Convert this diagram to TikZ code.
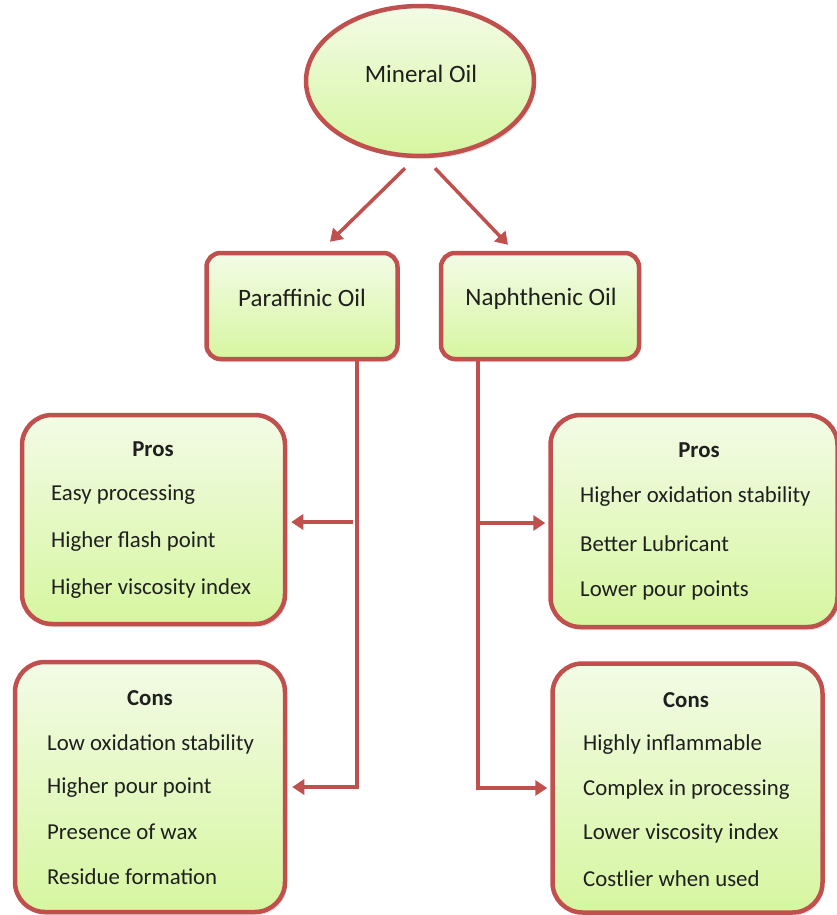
\documentclass[tikz,border=0pt]{standalone}
\usepackage{fontspec}
\setmainfont{Carlito}
\usetikzlibrary{shapes.geometric,arrows.meta,shadows}

\definecolor{edgered}{RGB}{192,80,77}
\definecolor{paletop}{RGB}{243,251,230}
\definecolor{palebot}{RGB}{214,246,160}

\tikzset{
  fillbox/.style={draw=edgered, line width=4.5pt, top color=paletop, bottom color=palebot,
    drop shadow={opacity=0.22, shadow xshift=2pt, shadow yshift=-3pt}},
  oval/.style={fillbox, ellipse, minimum width=228pt, minimum height=150pt, inner sep=0pt},
  oilbox/.style={fillbox, rectangle, rounded corners=14pt, inner sep=0pt},
  listbox/.style={fillbox, rectangle, rounded corners=30pt, inner sep=0pt},
  txt/.style={font=\fontsize{22.8}{27}\selectfont, inner sep=0pt, text=black!88},
  bigtxt/.style={txt, font=\fontsize{25}{30}\selectfont},
  head/.style={txt, font=\fontsize{22.8}{27}\selectfont\bfseries},
  item/.style={txt, anchor=west},
  arrow/.style={draw=edgered, line width=3.5pt, -{Triangle[length=12pt,width=15pt]}}
}

\begin{document}
\begin{tikzpicture}[x=1pt, y=-1pt]
  \useasboundingbox (0,0) rectangle (837,915);

  \node[oval] (mineral) at (420,81) {};
  \node[bigtxt] (mineraltxt) at (421,74) {Mineral Oil};

  \node[oilbox, minimum width=191pt, minimum height=106pt] (para) at (302,306) {};
  \node[bigtxt] (paratxt) at (302,298) {Paraffinic Oil};
  \node[oilbox, minimum width=198pt, minimum height=106pt] (naph) at (540,306) {};
  \node[bigtxt] (naphtxt) at (541,299) {Naphthenic Oil};

  \node[listbox, minimum width=263pt, minimum height=209pt] (lpros) at (153.5,519.5) {};
  \node[listbox, minimum width=270pt, minimum height=250pt] (lcons) at (150,787) {};
  \node[listbox, minimum width=287pt, minimum height=212pt] (rpros) at (694,521) {};
  \node[listbox, minimum width=270pt, minimum height=249pt] (rcons) at (687.5,788) {};

  \node[head] (lproshead) at (153,449) {Pros};
  \node[item] (lp1) at (51,495) {Easy processing};
  \node[item] (lp2) at (51,542) {Higher flash point};
  \node[item] (lp3) at (51,589) {Higher viscosity index};

  \node[head] (lconshead) at (150,698) {Cons};
  \node[item] (lc1) at (47,744) {Low oxidation stability};
  \node[item] (lc2) at (47,788) {Higher pour point};
  \node[item] (lc3) at (47,832) {Presence of wax};
  \node[item] (lc4) at (47,877) {Residue formation};

  \node[head] (rproshead) at (699,450) {Pros};
  \node[item] (rp1) at (580,497) {Higher oxidation stability};
  \node[item] (rp2) at (580,544) {Better Lubricant};
  \node[item] (rp3) at (580,590) {Lower pour points};

  \node[head] (rconshead) at (686,700) {Cons};
  \node[item] (rc1) at (583,745) {Highly inflammable};
  \node[item] (rc2) at (583,790) {Complex in processing};
  \node[item] (rc3) at (583,833) {Lower viscosity index};
  \node[item] (rc4) at (583,879) {Costlier when used};

  \draw[arrow] ([shift={(-15,10)}]mineral.south) -- ([shift={(28,-9)}]para.north);
  \draw[arrow] ([shift={(15,10)}]mineral.south) -- ([shift={(-32,-6)}]naph.north);

  \coordinate (lfork) at (357,522);
  \coordinate (rfork) at (478,523);
  \draw[arrow] ([xshift=55pt]para.south) |- ([xshift=5pt]lcons.east);
  \draw[arrow] ([xshift=-4pt]lfork) -- ([xshift=4pt]lpros.east |- lfork);
  \draw[arrow] ([xshift=-62pt]naph.south) |- ([xshift=-3pt]rcons.west);
  \draw[arrow] (rfork) -- ([xshift=-3pt]rpros.west |- rfork);
\end{tikzpicture}
\end{document}
